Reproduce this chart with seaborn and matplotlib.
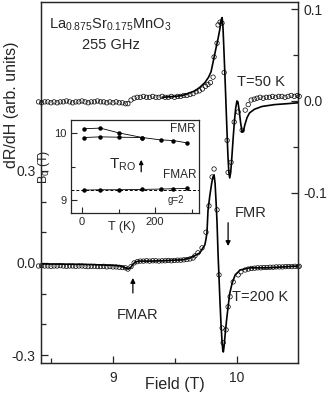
import numpy as np
import pandas as pd
import seaborn as sns
import matplotlib.pyplot as plt
from matplotlib.ticker import FixedLocator

# ---- data ----
# T = 50 K spectrum (right axis)
t50_field = [8.40, 8.425, 8.45, 8.475, 8.50, 8.525, 8.55, 8.575, 8.60, 8.625, 8.65, 8.675,
             8.70, 8.725, 8.75, 8.775, 8.80, 8.825, 8.85, 8.875, 8.90, 8.925, 8.95, 8.975,
             9.00, 9.025, 9.05, 9.075, 9.10, 9.12, 9.145, 9.17, 9.195, 9.22, 9.245, 9.27,
             9.295, 9.32, 9.345, 9.37, 9.395, 9.42, 9.445, 9.47, 9.495, 9.52, 9.545, 9.57,
             9.595, 9.62, 9.645, 9.67, 9.695, 9.72, 9.745, 9.765, 9.785, 9.806, 9.814, 9.838,
             9.846, 9.862, 9.878, 9.895, 9.919, 9.927, 9.951, 9.976, 10.008, 10.04, 10.065,
             10.089, 10.113, 10.138, 10.16, 10.185, 10.21, 10.235, 10.26, 10.285, 10.31,
             10.335, 10.36, 10.385, 10.41, 10.435, 10.46, 10.485, 10.50]
t50_data = [-0.001, -0.002, -0.001, -0.001, -0.002, -0.001, -0.002, -0.001, -0.001, 0.000,
            -0.001, -0.002, -0.001, -0.001, 0.000, -0.001, -0.002, -0.001, -0.001, 0.000,
            -0.001, -0.001, -0.002, -0.001, -0.002, -0.001, -0.002, -0.002, -0.003, -0.003,
            0.001, 0.003, 0.004, 0.004, 0.005, 0.004, 0.004, 0.005, 0.004, 0.004, 0.005,
            0.004, 0.004, 0.005, 0.004, 0.005, 0.005, 0.006, 0.006, 0.007, 0.008, 0.010,
            0.011, 0.013, 0.016, 0.018, 0.020, 0.026, 0.048, 0.063, 0.083, 0.086, 0.085,
            0.031, -0.043, -0.078, -0.067, -0.023, -0.012, -0.032, -0.010, -0.004, 0.001,
            0.002, 0.003, 0.004, 0.003, 0.004, 0.004, 0.005, 0.004, 0.005, 0.005, 0.004,
            0.005, 0.006, 0.005, 0.006, 0.005]
t50_fit_field = [9.40, 9.50, 9.56, 9.62, 9.66, 9.70, 9.74, 9.77, 9.79, 9.81, 9.83, 9.846,
                 9.86, 9.872, 9.879, 9.886, 9.895, 9.905, 9.915, 9.925, 9.933, 9.940, 9.948,
                 9.958, 9.968, 9.978, 9.988, 9.998, 10.006, 10.016, 10.028, 10.04, 10.05,
                 10.062, 10.08, 10.10, 10.14, 10.20, 10.30, 10.40, 10.49]
t50_fit = [0.004, 0.005, 0.006, 0.009, 0.011, 0.015, 0.020, 0.026, 0.032, 0.045, 0.058,
           0.068, 0.078, 0.089, 0.091, 0.080, 0.050, 0.015, -0.022, -0.058, -0.078, -0.084,
           -0.078, -0.060, -0.040, -0.022, -0.008, 0.000, -0.001, -0.010, -0.024, -0.034,
           -0.033, -0.026, -0.018, -0.013, -0.009, -0.006, -0.004, -0.003, -0.002]

# T = 200 K spectrum (left axis)
t200_field = [8.40, 8.425, 8.45, 8.475, 8.50, 8.525, 8.55, 8.575, 8.60, 8.625, 8.65, 8.675,
              8.70, 8.725, 8.75, 8.775, 8.80, 8.825, 8.85, 8.875, 8.90, 8.925, 8.95, 8.975,
              9.00, 9.025, 9.05, 9.075, 9.10, 9.12, 9.145, 9.17, 9.195, 9.22, 9.245, 9.27,
              9.295, 9.32, 9.345, 9.37, 9.395, 9.42, 9.445, 9.47, 9.495, 9.52, 9.545, 9.57,
              9.595, 9.62, 9.645, 9.66, 9.684, 9.717, 9.749, 9.773, 9.798, 9.814, 9.838,
              9.854, 9.879, 9.887, 9.911, 9.927, 9.943, 9.968, 10.008, 10.03, 10.065, 10.09,
              10.115, 10.14, 10.165, 10.19, 10.215, 10.24, 10.265, 10.29, 10.315, 10.34,
              10.365, 10.39, 10.415, 10.44, 10.465, 10.49, 10.50]
t200_data = [-0.010, -0.009, -0.010, -0.010, -0.011, -0.010, -0.010, -0.009, -0.010, -0.011,
             -0.010, -0.010, -0.011, -0.010, -0.010, -0.011, -0.012, -0.011, -0.011, -0.012,
             -0.012, -0.011, -0.013, -0.012, -0.013, -0.013, -0.014, -0.015, -0.016, -0.020,
             -0.012, 0.000, 0.004, 0.006, 0.006, 0.007, 0.006, 0.007, 0.007, 0.006, 0.007,
             0.007, 0.008, 0.007, 0.008, 0.009, 0.009, 0.010, 0.011, 0.013, 0.016, 0.023,
             0.033, 0.049, 0.100, 0.186, 0.280, 0.306, 0.173, -0.039, -0.212, -0.260, -0.218,
             -0.143, -0.110, -0.062, -0.039, -0.029, -0.023, -0.020, -0.018, -0.017, -0.016,
             -0.016, -0.015, -0.015, -0.014, -0.014, -0.013, -0.013, -0.013, -0.012, -0.012,
             -0.012, -0.011, -0.012, -0.011]
t200_fit_field = [8.41, 8.60, 8.80, 9.00, 9.06, 9.10, 9.125, 9.14, 9.16, 9.18, 9.21, 9.30,
                  9.40, 9.50, 9.56, 9.62, 9.66, 9.70, 9.74, 9.75, 9.757, 9.765, 9.78, 9.795,
                  9.805, 9.814, 9.822, 9.830, 9.838, 9.846, 9.854, 9.862, 9.870, 9.878, 9.885,
                  9.889, 9.895, 9.905, 9.915, 9.927, 9.94, 9.96, 9.984, 10.024, 10.10, 10.25,
                  10.49]
t200_fit = [-0.003, -0.004, -0.005, -0.008, -0.010, -0.016, -0.020, -0.016, -0.005, 0.003,
            0.006, 0.006, 0.007, 0.009, 0.010, 0.016, 0.024, 0.033, 0.059, 0.080, 0.100,
            0.170, 0.220, 0.260, 0.280, 0.287, 0.260, 0.200, 0.130, 0.030, -0.050, -0.130,
            -0.200, -0.255, -0.288, -0.290, -0.270, -0.225, -0.185, -0.143, -0.100, -0.065,
            -0.039, -0.023, -0.016, -0.016, -0.010]

# inset: resonance field vs temperature
inset_t_upper = [5, 50, 100, 165]
inset_fmr_upper = [10.06, 10.07, 10.00, 9.93]
inset_t_lower = [5, 50, 100, 165, 215, 250, 288]
inset_fmr_lower = [9.93, 9.94, 9.935, 9.93, 9.895, 9.885, 9.85]
inset_t_fmar = [5, 50, 100, 165, 215, 250, 288]
inset_fmar = [9.15, 9.155, 9.155, 9.16, 9.165, 9.17, 9.175]
g2_field = 9.15

# ---- style ----
sns.set_style("ticks")
plt.rcParams['font.family'] = ['Liberation Sans', 'DejaVu Sans']
plt.rcParams['mathtext.fontset'] = 'custom'
plt.rcParams['mathtext.rm'] = 'Liberation Sans'
plt.rcParams['mathtext.it'] = 'Liberation Sans:italic'
plt.rcParams['xtick.direction'] = 'in'
plt.rcParams['ytick.direction'] = 'in'
plt.rcParams['axes.linewidth'] = 0.9

fig = plt.figure(figsize=(3.27, 3.94), dpi=100)
ax = fig.add_axes([0.1254, 0.0787, 0.7859, 0.9162])
ax2 = ax.twinx()

sc_kw = dict(marker='o', s=10, facecolor='none', edgecolor='k', linewidth=0.5,
             clip_on=False, zorder=3)

sns.lineplot(x=t200_fit_field, y=t200_fit, ax=ax, color='k', lw=1.2, sort=False, zorder=2)
sns.scatterplot(x=t200_field, y=t200_data, ax=ax, **sc_kw)
sns.lineplot(x=t50_fit_field, y=t50_fit, ax=ax2, color='k', lw=1.2, sort=False, zorder=2)
sns.scatterplot(x=t50_field, y=t50_data, ax=ax2, **sc_kw)

ax.set_xlim(8.42, 10.49)
ax.set_ylim(-0.326, 0.850)
ax2.set_ylim(-0.286, 0.108)

ax.set_xticks([9, 10])
ax.set_xticklabels(['9', '10'])
ax.xaxis.set_minor_locator(FixedLocator([8.5, 9.5]))
ax.set_yticks([-0.3, 0.0, 0.3])
ax.set_yticklabels(['-0.3', '0.0', '0.3'])
ax.yaxis.set_minor_locator(FixedLocator([-0.2, -0.1, 0.1, 0.2]))
ax2.set_yticks([-0.1, 0.0, 0.1])
ax2.set_yticklabels(['-0.1', '0.0', '0.1'])
ax2.yaxis.set_minor_locator(FixedLocator([-0.05, 0.05]))
for a in (ax, ax2):
    a.tick_params(which='major', length=5, width=0.9, labelsize=10, pad=4)
    a.tick_params(which='minor', length=3.5, width=0.9)
ax.tick_params(top=False, right=False, which='both')
ax.tick_params(axis='x', pad=6)
ax2.tick_params(left=False, which='both')
ax.set_xlabel('Field (T)', fontsize=11.5, va='center')
ax.xaxis.set_label_coords(0.52, -0.06)
ax.set_ylabel('')
ax2.set_ylabel('')
for s in ax.spines.values():
    s.set_visible(True)

fig.text(12 / 327, 1 - 105 / 394, 'dR/dH (arb. units)', rotation=90, fontsize=11.5,
         ha='center', va='center')

tr = ax.transAxes
ax.text(0.268, 0.936, 'La$_{0.875}$Sr$_{0.175}$MnO$_3$', transform=tr, fontsize=10.5,
        ha='center', va='center')
ax.text(0.272, 0.881, '255 GHz', transform=tr, fontsize=10.5, ha='center', va='center')
ax.text(0.763, 0.778, 'T=50 K', transform=tr, fontsize=10.5, ha='left', va='center')
ax.text(0.755, 0.416, 'FMR', transform=tr, fontsize=10.5, ha='left', va='center')
ax.text(0.743, 0.183, 'T=200 K', transform=tr, fontsize=10.5, ha='left', va='center')
ax.text(0.374, 0.133, 'FMAR', transform=tr, fontsize=10.5, ha='center', va='center')
arrow = dict(arrowstyle='-|>', lw=0.9, color='k', mutation_scale=7)
ax.annotate('', xy=(9.927, 0.046), xytext=(9.927, 0.14), arrowprops=arrow)
ax.annotate('', xy=(9.16, -0.040), xytext=(9.16, -0.107), arrowprops=arrow)

# ---- inset ----
ins = fig.add_axes([0.2171, 0.4594, 0.3914, 0.2360])
ins.set_facecolor('white')
ln_kw = dict(color='k', lw=0.6, marker='o', markersize=3.2, markeredgewidth=0)
sns.lineplot(x=inset_t_upper, y=inset_fmr_upper, ax=ins, **ln_kw)
sns.lineplot(x=inset_t_lower, y=inset_fmr_lower, ax=ins, **ln_kw)
sns.lineplot(x=inset_t_fmar, y=inset_fmar, ax=ins, **ln_kw)
ins.axhline(g2_field, color='k', lw=0.7, ls=(0, (3, 2)))
ins.set_xlim(-30, 320)
ins.set_ylim(8.81, 10.19)
ins.set_xticks([0, 200])
ins.set_xticklabels(['0', '200'])
ins.xaxis.set_minor_locator(FixedLocator([100, 300]))
ins.set_yticks([9, 10])
ins.set_yticklabels(['9', '10'])
ins.yaxis.set_minor_locator(FixedLocator([9.5]))
ins.tick_params(which='major', length=4, width=0.8, labelsize=8, pad=3)
ins.tick_params(which='minor', length=3, width=0.8)
ins.set_xlabel('T (K)', fontsize=9)
ins.xaxis.set_label_coords(0.40, -0.085)
ins.set_ylabel('B$_0$ (T)', fontsize=9, labelpad=2)
ins.text(310, 10.05, 'FMR', fontsize=8.5, ha='right', va='center')
ins.text(312, 9.37, 'FMAR', fontsize=8.5, ha='right', va='center')
ins.text(258, 9.0, 'g=2', fontsize=7, ha='center', va='center')
ins.text(148, 9.52, r'T$_{\mathrm{RO}}$', fontsize=11, ha='right', va='center')
ins.annotate('', xy=(162, 9.64), xytext=(162, 9.38),
             arrowprops=dict(arrowstyle='-|>', lw=0.9, color='k', mutation_scale=6))

fig.savefig('out.png', dpi=100)
